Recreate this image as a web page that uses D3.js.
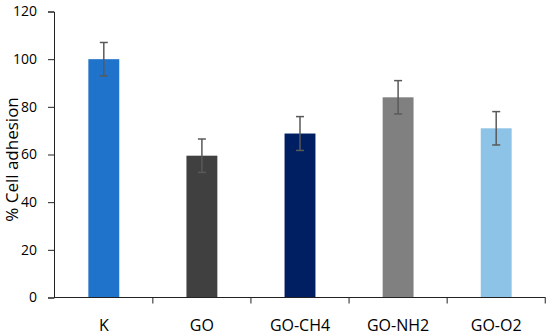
<!DOCTYPE html>
<html><head><meta charset="utf-8">
<script src="https://cdn.jsdelivr.net/npm/d3@7"></script>
<style>body{margin:0;background:#fff}svg{display:block}</style>
</head><body>
<script>
const categories = ["K", "GO", "GO-CH4", "GO-NH2", "GO-O2"];
const values = [100, 59.5, 68.8, 84, 71];
const errors = [7, 7, 7.1, 7, 7];
const colors = ["#1F73CA", "#404040", "#001E62", "#808080", "#8EC3E8"];
const yTicks = [0, 20, 40, 60, 80, 100, 120];

const W = 550, H = 336;
const m = {left: 55, right: 5, top: 11.5, bottom: 38.5};
const svg = d3.select("body").append("svg").attr("width", W).attr("height", H);
const x = d3.scaleBand().domain(categories).range([m.left, W - m.right]).paddingInner(0.685).paddingOuter(0.34);
const y = d3.scaleLinear().domain([0, 120]).range([H - m.bottom, m.top]);
const font = "'Open Sans', 'Noto Sans', sans-serif";

svg.selectAll("rect.bar").data(categories).join("rect")
  .attr("x", d => x(d)).attr("width", x.bandwidth())
  .attr("y", (d, i) => y(values[i])).attr("height", (d, i) => y(0) - y(values[i]))
  .attr("fill", (d, i) => colors[i]);

const eb = svg.append("g").attr("stroke", "#595959").attr("stroke-width", 1.5);
categories.forEach((c, i) => {
  const cx = x(c) + x.bandwidth() / 2;
  eb.append("line").attr("x1", cx).attr("x2", cx).attr("y1", y(values[i] + errors[i])).attr("y2", y(values[i] - errors[i]));
  [values[i] + errors[i], values[i] - errors[i]].forEach(v => {
    eb.append("line").attr("x1", cx - 4).attr("x2", cx + 4).attr("y1", y(v)).attr("y2", y(v));
  });
});

const ya = svg.append("g").attr("transform", `translate(${m.left - 1},0)`)
  .call(d3.axisLeft(y).tickValues(yTicks).tickSize(6).tickPadding(11));
ya.selectAll("text").attr("font-family", font).attr("font-size", 14).attr("fill", "#000");
ya.selectAll("line,path").attr("stroke", "#222");

// x axis with ticks at band boundaries
const xa = svg.append("g");
xa.append("line").attr("x1", m.left - 1).attr("x2", W - m.right + 0.5).attr("y1", y(0)).attr("y2", y(0)).attr("stroke", "#222");
const step = x.step();
const bounds = categories.map((c, i) => x(c) + x.bandwidth() / 2 + step / 2);
bounds.forEach(b => xa.append("line").attr("x1", b).attr("x2", b).attr("y1", y(0)).attr("y2", y(0) + 6).attr("stroke", "#222"));
xa.selectAll("text").data(categories).join("text")
  .attr("x", d => x(d) + x.bandwidth() / 2).attr("y", y(0) + 33)
  .attr("text-anchor", "middle").attr("font-family", font).attr("font-size", 16).attr("fill", "#000")
  .text(d => d);

svg.append("text").attr("transform", `translate(18,${(y(0) + y(120)) / 2 + 5}) rotate(-90)`)
  .attr("text-anchor", "middle").attr("font-family", font).attr("font-size", 17).attr("fill", "#000")
  .text("% Cell adhesion");
</script>
</body></html>
